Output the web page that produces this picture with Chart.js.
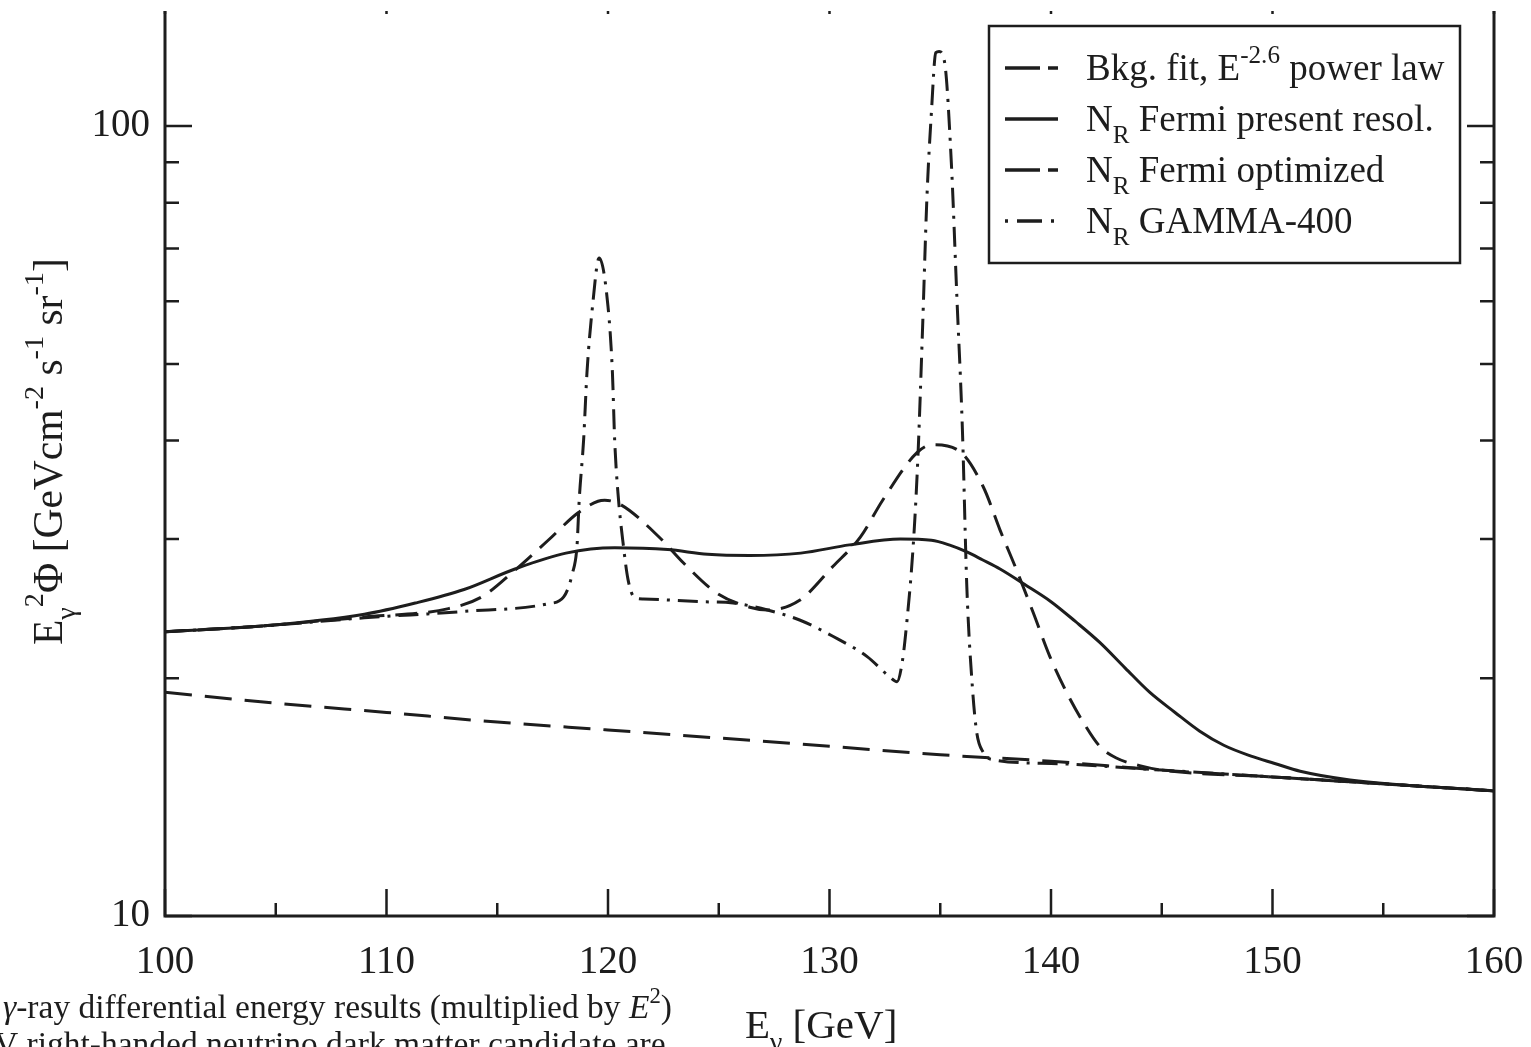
<!DOCTYPE html>
<html>
<head>
<meta charset="utf-8">
<script src="https://cdn.jsdelivr.net/npm/chart.js@4.4.1/dist/chart.umd.min.js"></script>
<style>
  html, body { margin: 0; padding: 0; background: #fff; overflow: hidden; }
  #wrap { position: absolute; left: 0; top: -20px; width: 1531px; height: 1067px; }
</style>
</head>
<body>
<div id="wrap"><canvas id="spectrum"></canvas></div>
<script>
// axis ticks
const xMajorTicks = [100, 110, 120, 130, 140, 150, 160];
const xMinorTicks = [105, 115, 125, 135, 145, 155];
const yMajorTicks = [10, 100];
const yMinorTicks = [20, 30, 40, 50, 60, 70, 80, 90];

// Bkg. fit, E^-2.6 power law
const bkgEnergy = [100, 105, 110, 115, 120, 125, 130, 135, 140, 145, 150, 155, 160];
const bkgFlux = [19.2, 18.6, 18.1, 17.6, 17.2, 16.8, 16.4, 16.0, 15.7, 15.3, 15.0, 14.7, 14.4];

// N_R Fermi present resolution
const presEnergy = [100, 104.5, 109, 111.3, 113.5, 115.8, 118.1, 120.3, 122.7, 124.5,
  126.4, 128.7, 130.9, 133.2, 134.6, 135.4, 136.2, 136.9, 137.7, 138.8,
  140.0, 141.1, 142.2, 143.35, 144.45, 145.6, 146.7, 147.8, 149.0, 150.1,
  151.25, 153.5, 160];
const presFlux = [22.9, 23.3, 24.1, 24.9, 25.9, 27.5, 28.8, 29.25, 29.1, 28.7,
  28.6, 28.8, 29.5, 30.0, 29.9, 29.5, 28.9, 28.25, 27.5, 26.3,
  25.0, 23.6, 22.2, 20.6, 19.2, 18.1, 17.15, 16.45, 15.95, 15.6,
  15.25, 14.87, 14.4];

// N_R Fermi optimized
const optEnergy = [100, 104.5, 107.5, 109, 112.8, 114.3, 115.8, 117.3, 118.65, 119.55,
  119.85, 120.55, 122.35, 123.4, 124.9, 126.4, 127.2, 128.65, 130.15, 131.4,
  132.4, 133.95, 134.65, 135.9, 136.95, 137.7, 138.45, 139.2, 139.95, 140.7,
  141.45, 142.2, 142.95, 144.0, 145, 150, 155, 160];
const optFlux = [22.9, 23.3, 23.7, 23.9, 24.5, 25.35, 27.4, 29.9, 32.4, 33.5,
  33.6, 33.2, 30.1, 28.0, 25.65, 24.6, 24.4, 25.1, 27.7, 30.2,
  33.6, 38.6, 39.5, 38.7, 34.9, 30.8, 27.4, 24.2, 21.3, 19.2,
  17.6, 16.4, 15.85, 15.5, 15.3, 15.0, 14.7, 14.4];

// N_R GAMMA-400
const gamEnergy = [100, 104.5, 109, 113.5, 117.3, 118.0, 118.4, 118.6, 118.7, 118.9,
  119.05, 119.3, 119.6, 120.0, 120.2, 120.3, 120.45, 120.7, 120.9, 121.2,
  121.6, 124.15, 125.65, 127.2, 128.65, 130.15, 131.7, 132.7, 133.05, 133.3,
  133.5, 133.7, 133.85, 134.0, 134.2, 134.4, 134.6, 134.8, 134.95, 135.2,
  135.5, 135.75, 136.0, 136.2, 136.45, 136.65, 136.95, 137.25, 140, 145,
  150, 155, 160];
const gamFlux = [22.9, 23.3, 23.85, 24.3, 24.85, 25.35, 27.2, 29.4, 33.6, 40.1,
  48.7, 59.1, 68.1, 59.1, 48.7, 40.1, 34.3, 29.35, 26.7, 25.3,
  25.2, 25.0, 24.9, 24.4, 23.7, 22.6, 21.3, 20.1, 19.8, 21.1,
  23.7, 27.4, 31.7, 38.6, 55.3, 81.4, 104.0, 123.9, 124.3, 120.3,
  89.9, 60.8, 41.3, 26.1, 19.5, 17.05, 16.1, 15.8, 15.6, 15.3,
  15.0, 14.7, 14.4];

const ink = "#1d1d1d";
const serif = "'Liberation Serif', 'Times New Roman', serif";
const shift = 20; // canvas starts 20px above the page, the frame top is cropped

function toPoints(xs, ys) {
  return xs.map((x, i) => ({ x: x, y: ys[i] }));
}

// text with sub/superscripts: parts = [text, kind, italic]
function richText(ctx, x, y, parts, size) {
  let cx = x;
  parts.forEach(([text, kind, italic]) => {
    let fs = size, dy = 0;
    if (kind === "sup") { fs = size * 0.68; dy = -size * 0.45; }
    if (kind === "sub") { fs = size * 0.68; dy = size * 0.32; }
    ctx.font = (italic ? "italic " : "") + fs + "px " + serif;
    ctx.fillText(text, cx, y + dy);
    cx += ctx.measureText(text).width;
  });
  return cx;
}

const legendRows = [
  { dash: [35, 8], parts: [["Bkg. fit, E"], ["-2.6", "sup"], [" power law"]] },
  { dash: [], parts: [["N"], ["R", "sub"], [" Fermi present resol."]] },
  { dash: [35, 8], parts: [["N"], ["R", "sub"], [" Fermi optimized"]] },
  { dash: [3, 9, 25, 9], parts: [["N"], ["R", "sub"], [" GAMMA-400"]] }
];

const decorations = {
  id: "decorations",
  afterDraw(chart) {
    const { ctx, chartArea: a } = chart;
    const xs = chart.scales.x, ys = chart.scales.y;
    ctx.save();
    ctx.strokeStyle = ink;
    ctx.fillStyle = ink;
    ctx.setLineDash([]);

    // frame
    ctx.lineWidth = 3;
    ctx.strokeRect(a.left, a.top, a.right - a.left, a.bottom - a.top);

    // inward ticks
    ctx.lineWidth = 2.5;
    ctx.beginPath();
    const xTick = (v, len) => {
      const px = xs.getPixelForValue(v);
      ctx.moveTo(px, a.bottom); ctx.lineTo(px, a.bottom - len);
      ctx.moveTo(px, a.top); ctx.lineTo(px, a.top + len);
    };
    const yTick = (v, len) => {
      const py = ys.getPixelForValue(v);
      ctx.moveTo(a.left, py); ctx.lineTo(a.left + len, py);
      ctx.moveTo(a.right, py); ctx.lineTo(a.right - len, py);
    };
    xMajorTicks.forEach(v => xTick(v, 27));
    xMinorTicks.forEach(v => xTick(v, 13));
    yMajorTicks.forEach(v => yTick(v, 27));
    yMinorTicks.forEach(v => yTick(v, 14));
    ctx.stroke();

    // tick labels
    ctx.font = "39px " + serif;
    ctx.textBaseline = "middle";
    ctx.textAlign = "center";
    xMajorTicks.forEach(v => ctx.fillText(String(v), xs.getPixelForValue(v), a.bottom + 47));
    ctx.textAlign = "right";
    yMajorTicks.forEach(v => ctx.fillText(String(v), a.left - 15, ys.getPixelForValue(v)));

    // the picture is cut just above the plot
    ctx.fillStyle = "#fff";
    ctx.fillRect(0, 0, chart.width, 11 + shift);

    // legend
    const lx = 989, ly = 26 + shift, lw = 471, lh = 237;
    ctx.fillRect(lx, ly, lw, lh);
    ctx.lineWidth = 2.5;
    ctx.strokeRect(lx, ly, lw, lh);
    ctx.fillStyle = ink;
    ctx.textBaseline = "alphabetic";
    ctx.textAlign = "left";
    legendRows.forEach((row, i) => {
      const base = 80 + shift + i * 51;
      ctx.lineWidth = 3.5;
      ctx.setLineDash(row.dash);
      ctx.beginPath();
      ctx.moveTo(1005, base - 12);
      ctx.lineTo(1058, base - 12);
      ctx.stroke();
      ctx.setLineDash([]);
      richText(ctx, 1086, base, row.parts, 37);
    });

    // y title
    ctx.save();
    ctx.translate(62, 645 + shift);
    ctx.rotate(-Math.PI / 2);
    richText(ctx, 0, 0, [["E"], ["γ", "sub"], ["2", "sup"], ["Φ [GeVcm"], ["-2", "sup"],
      [" s"], ["-1", "sup"], [" sr"], ["-1", "sup"], ["]"]], 41.5);
    ctx.restore();

    // x title
    richText(ctx, 745, 1038 + shift, [["E"], ["γ", "sub"], [" [GeV]"]], 41);

    // caption lines of the page
    richText(ctx, 3, 1018 + shift, [["γ", "", true], ["-ray differential energy results (multiplied by "],
      ["E", "", true], ["2", "sup"], [")"]], 33.5);
    richText(ctx, -6, 1055 + shift, [["V right-handed neutrino dark matter candidate are"]], 33.5);

    ctx.restore();
  }
};

const lineStyle = {
  borderColor: ink,
  borderWidth: 3,
  pointRadius: 0,
  fill: false,
  cubicInterpolationMode: "monotone"
};

new Chart(document.getElementById("spectrum"), {
  type: "line",
  data: {
    datasets: [
      Object.assign({ label: "Bkg. fit, E-2.6 power law", data: toPoints(bkgEnergy, bkgFlux), borderDash: [27, 13] }, lineStyle),
      Object.assign({ label: "NR Fermi present resol.", data: toPoints(presEnergy, presFlux), borderDash: [] }, lineStyle),
      Object.assign({ label: "NR Fermi optimized", data: toPoints(optEnergy, optFlux), borderDash: [22, 11] }, lineStyle),
      Object.assign({ label: "NR GAMMA-400", data: toPoints(gamEnergy, gamFlux), borderDash: [20, 8, 3, 8] }, lineStyle)
    ]
  },
  options: {
    responsive: true,
    maintainAspectRatio: false,
    animation: false,
    layout: { padding: { left: 165, right: 37, top: 7, bottom: 131 } },
    plugins: { legend: { display: false }, tooltip: { enabled: false } },
    scales: {
      x: {
        type: "linear",
        min: 100,
        max: 160,
        afterFit: s => { s.height = 0; s.paddingLeft = 0; s.paddingRight = 0; },
        grid: { display: false, drawTicks: false },
        border: { display: false },
        ticks: { display: false, stepSize: 10 }
      },
      y: {
        type: "logarithmic",
        min: 10,
        max: 150,
        afterFit: s => { s.width = 0; s.paddingTop = 0; s.paddingBottom = 0; },
        grid: { display: false, drawTicks: false },
        border: { display: false },
        ticks: { display: false }
      }
    }
  },
  plugins: [decorations]
});
</script>
</body>
</html>
